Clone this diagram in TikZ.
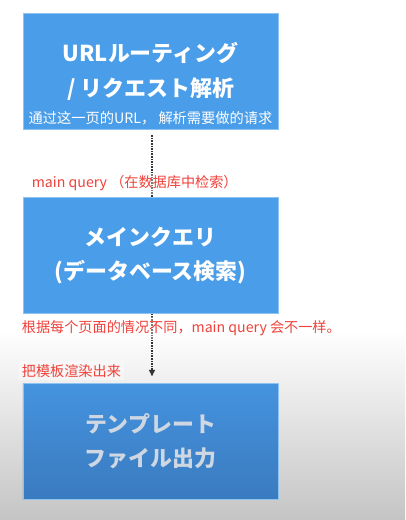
\documentclass[tikz,border=0pt]{standalone}
\usepackage{fontspec}
\setmainfont{Noto Sans CJK JP}
\newfontfamily\scfont{Noto Sans CJK SC}
\usetikzlibrary{positioning,arrows.meta}

\definecolor{boxblue}{HTML}{4A9DE8}
\definecolor{boxedge}{HTML}{8EC2F0}
\definecolor{darktop}{HTML}{4593DF}
\definecolor{darkbot}{HTML}{3A7BBF}
\definecolor{dimtext}{HTML}{CFD8E2}
\definecolor{notered}{HTML}{F0413A}

\begin{document}
\begin{tikzpicture}[x=1bp,y=1bp,
  stage/.style={rectangle, draw=boxedge, line width=0.6bp, fill=boxblue,
    minimum width=255bp, minimum height=116bp, inner sep=0pt, align=center,
    text=white, font=\fontsize{22}{35}\selectfont\bfseries},
  sub/.style={text=white, inner sep=0pt, font=\scfont\fontsize{14.3}{16}\selectfont},
  note/.style={text=notered, fill=white, fill opacity=0.35, text opacity=1,
    inner sep=3bp, anchor=west, font=\scfont\fontsize{14.2}{16}\selectfont},
  flow/.style={densely dotted, line width=1.6bp, draw=black!80}
]
  % page and its grey fade
  \useasboundingbox (0,0) rectangle (405,520);
  \fill[white] (0,190) rectangle (405,520);
  \shade[top color=white, bottom color=black!23] (0,0) rectangle (405,190.5);

  % the three stages
  \node[stage] (route) at (150.5,449) {URLルーティング\\/ リクエスト解析};
  \node[sub] (routenote) at ([yshift=11bp]route.south) {通过这一页的URL， 解析需要做的请求};
  \node[stage, below=68bp of route] (query) {メインクエリ\\(データベース検索)};
  \node[stage, below=69bp of query, top color=darktop, bottom color=darkbot,
    text=dimtext] (render) {テンプレート\\ファイル出力};

  % flow between stages
  \draw[flow, shorten <=6bp] ([xshift=1.5bp]route.south) -- ([xshift=1.5bp]query.north);
  \draw[flow, shorten >=6bp, -{Latex[length=7bp,width=7bp]}]
    ([xshift=1.5bp]query.south) -- ([xshift=1.5bp]render.north);

  % red notes
  \node[note] (querynote) at ([xshift=6bp, yshift=14bp]query.north west) {main query （在数据库中检索）};
  \node[note] (diffnote) at ([xshift=-4bp, yshift=-14bp]query.south west) {根据每个页面的情况不同，main query 会不一样。};
  \node[note] (rendernote) at ([xshift=-4bp, yshift=12bp]render.north west) {把模板渲染出来};
\end{tikzpicture}
\end{document}
